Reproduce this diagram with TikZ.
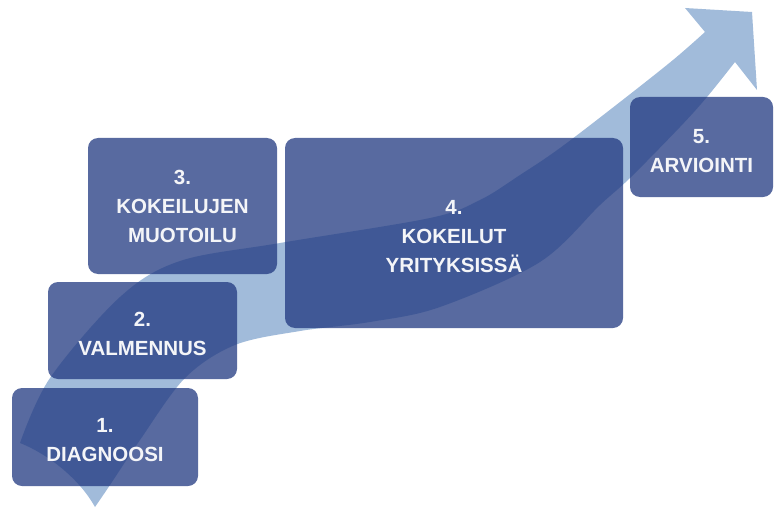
\documentclass[tikz,border=0pt]{standalone}
\usepackage{fontspec}
\setmainfont{Liberation Sans}
\definecolor{arrowblue}{RGB}{161,187,218}
\definecolor{boxblue}{RGB}{32,56,128}
\definecolor{txtwhite}{RGB}{244,245,248}
\tikzset{
  stepbox/.style={rectangle, rounded corners=10pt, fill=boxblue, fill opacity=0.75, draw=none, inner sep=0pt},
  steplabel/.style={text=txtwhite, align=center, inner sep=0pt, font=\fontsize{20.5}{29}\selectfont\bfseries}
}
\begin{document}
\begin{tikzpicture}[x=1pt,y=-1pt]
\useasboundingbox (0,0) rectangle (776,508);
% the upward swoosh arrow
\fill[arrowblue]
  plot[smooth, tension=0.55] coordinates {(20,443) (50,378) (120,297) (180,261) (280,243) (430,218) (480,200) (520,175) (560,148) (620,102) (673,60) (705,32)}
  -- (685,8) -- (752,12) -- (757,90) -- (735,62)
  -- plot[smooth, tension=0.55] coordinates {(735,62) (707,97) (680,127) (630,178) (600,205) (540,262) (440,307) (370,322) (300,331) (235,345) (185,378) (140,440) (110,485) (95,507)}
  .. controls (80,480) and (50,455) .. (20,443) -- cycle;
% boxes
\node[stepbox, minimum width=186pt, minimum height=98pt] (b1) at (105,437) {};
\node[stepbox, minimum width=189pt, minimum height=97pt] (b2) at (142.5,330.5) {};
\node[stepbox, minimum width=189pt, minimum height=136pt] (b3) at (182.5,206) {};
\node[stepbox, minimum width=338pt, minimum height=190pt] (b4) at (454,233) {};
\node[stepbox, minimum width=143pt, minimum height=100pt] (b5) at (701.5,147) {};
% labels
\node[steplabel] (t1) at ([yshift=-3pt]b1.center) {1.\\DIAGNOOSI};
\node[steplabel] (t2) at ([yshift=-3pt]b2.center) {2.\\VALMENNUS};
\node[steplabel] (t3) at ([yshift=0pt]b3.center) {3.\\KOKEILUJEN\\MUOTOILU};
\node[steplabel] (t4) at ([yshift=-4pt]b4.center) {4.\\KOKEILUT\\YRITYKSISSÄ};
\node[steplabel] (t5) at ([yshift=-4pt]b5.center) {5.\\ARVIOINTI};
\end{tikzpicture}
\end{document}
